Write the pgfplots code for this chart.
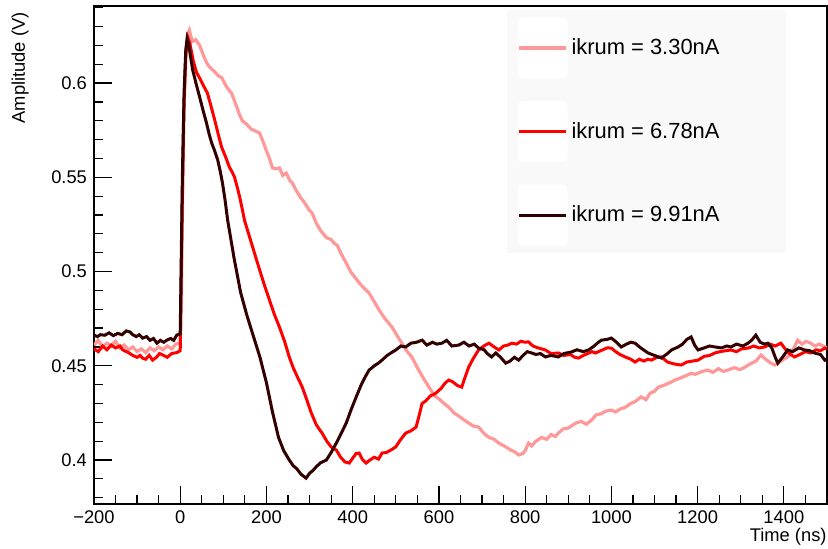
\documentclass[border=0pt]{standalone}
\usepackage{pgfplots}
\pgfplotsset{compat=1.18}
\usepackage{fontspec}
\setmainfont{Liberation Sans}
\definecolor{pinkc}{HTML}{FF9999}
\definecolor{redc}{HTML}{FF0000}
\definecolor{darkc}{HTML}{330000}
\definecolor{legbg}{HTML}{F9F9F9}

\begin{document}
\begin{tikzpicture}
\begin{axis}[
  scale only axis,
  width=366.5bp, height=249bp,
  xmin=-200, xmax=1500,
  ymin=0.3767, ymax=0.6409,
  axis line style={line width=0.6bp},
  tick pos=left,
  tick align=inside,
  major tick length=9bp,
  minor tick length=4.5bp,
  tick style={line width=0.6bp, black},
  xtick={-200,0,200,400,600,800,1000,1200,1400},
  xticklabels={−200,0,200,400,600,800,1000,1200,1400},
  minor xtick={-150,-100,...,1450},
  ytick={0.4,0.45,0.5,0.55,0.6},
  yticklabels={0.4,0.45,0.5,0.55,0.6},
  minor ytick={0.38,0.39,...,0.645},
  tick label style={font=\fontsize{9.2}{11}\selectfont},
  xlabel={Time (ns)},
  ylabel={Amplitude (V)},
  label style={font=\fontsize{9.2}{11}\selectfont, inner sep=0pt},
  xlabel style={at={(axis description cs:1,-0.048)}, anchor=north east},
  ylabel style={at={(axis description cs:-0.0887,0.988)}, anchor=south east},
  legend style={at={(axis description cs:0.5634,0.992)}, anchor=north west,
    draw=none, fill=legbg, inner xsep=5bp, inner ysep=3.5bp, row sep=11.3bp,
    font=\fontsize{11}{13}\selectfont},
  legend cell align=left,
  legend image code/.code={
    \fill[white, rounded corners=2bp] (0bp,-14.5bp) rectangle (23.5bp,14.5bp);
    \draw[#1] (0bp,0bp) -- (23.5bp,0bp);},
  clip=true,
]
\addplot[pinkc, line width=1.6bp] coordinates {
(-200,0.461) (-190,0.4635) (-180,0.460) (-170,0.462) (-160,0.4605) (-150,0.463) (-140,0.4595) (-130,0.461)
(-120,0.4585) (-110,0.460) (-100,0.4575) (-90,0.459) (-80,0.457) (-70,0.4595) (-60,0.458) (-50,0.460)
(-40,0.4585) (-30,0.4605) (-20,0.459) (-10,0.4615) (0,0.462) (2,0.48) (5,0.53) (8,0.58) (12,0.61)
(17,0.626) (21,0.628) (28,0.622) (36,0.623) (45,0.620) (55,0.614) (62,0.6105) (68,0.6085) (80,0.606)
(90,0.6035) (96,0.603) (105,0.599) (112,0.5965) (119,0.5947) (130,0.588) (138,0.583) (144,0.580)
(155,0.578) (165,0.5755) (175,0.5745) (184,0.5735) (192,0.569) (200,0.564) (207,0.560) (214,0.555)
(222,0.5545) (230,0.555) (238,0.551) (246,0.5522) (255,0.548) (260,0.547) (269,0.543) (280,0.539)
(290,0.536) (299,0.5326) (306,0.531) (315,0.526) (325,0.522) (332,0.520) (339,0.518) (350,0.517)
(357,0.515) (364,0.514) (372,0.510) (385,0.5045) (395,0.500) (405,0.497) (415,0.494) (425,0.4915)
(438,0.4886) (450,0.484) (461,0.4796) (475,0.475) (491,0.4706) (503,0.466) (514,0.462) (525,0.458)
(537,0.4547) (550,0.449) (565,0.443) (577,0.4387) (590,0.434) (600,0.4325) (612,0.430) (623,0.428)
(635,0.425) (645,0.4235) (657,0.4215) (669,0.4196) (680,0.418) (692,0.4175) (705,0.414) (716,0.412)
(728,0.411) (739,0.409) (747,0.408) (755,0.407) (765,0.4055) (775,0.4045) (785,0.4027) (795,0.4035)
(800,0.405) (808,0.409) (815,0.4075) (825,0.410) (838,0.412) (850,0.411) (860,0.4135) (870,0.4125)
(877,0.4143) (888,0.4165) (900,0.417) (910,0.4185) (917,0.4196) (930,0.4205) (942,0.419) (954,0.4212)
(965,0.424) (975,0.4245) (988,0.426) (1000,0.4265) (1010,0.4255) (1020,0.427) (1032,0.428) (1045,0.430)
(1055,0.431) (1069,0.4335) (1080,0.432) (1090,0.4355) (1100,0.4365) (1109,0.4387) (1120,0.4395)
(1130,0.4405) (1140,0.4415) (1148,0.4425) (1160,0.4435) (1170,0.4445) (1185,0.446) (1195,0.4455)
(1210,0.447) (1224,0.4477) (1235,0.4465) (1248,0.4485) (1260,0.447) (1270,0.4477) (1285,0.449)
(1298,0.448) (1310,0.4493) (1322,0.451) (1335,0.4525) (1347,0.4557) (1360,0.453) (1370,0.4515)
(1379,0.4504) (1390,0.452) (1400,0.4535) (1409,0.4547) (1420,0.458) (1432,0.4636) (1442,0.4615)
(1452,0.463) (1462,0.462) (1472,0.4605) (1482,0.4615) (1495,0.460) (1500,0.4595)
};
\addlegendentry{ikrum = 3.30nA\hspace*{26bp}}
\addplot[redc, line width=1.5bp] coordinates {
(-200,0.459) (-190,0.4575) (-180,0.4605) (-170,0.4585) (-160,0.461) (-150,0.4595) (-140,0.4605)
(-133,0.4584) (-120,0.457) (-110,0.4555) (-100,0.4545) (-93,0.4555) (-87,0.454) (-80,0.4535)
(-72,0.4555) (-64,0.453) (-55,0.4545) (-48,0.4565) (-40,0.4557) (-30,0.4545) (-20,0.4565) (-8,0.457)
(0,0.458) (2,0.49) (5,0.54) (9,0.59) (13,0.615) (18,0.624) (22,0.6215) (30,0.612) (38,0.6055)
(45,0.6027) (53,0.599) (63,0.5947) (70,0.589) (80,0.5804) (88,0.573) (96,0.566) (105,0.561)
(114,0.5554) (120,0.553) (126,0.5501) (132,0.545) (138,0.5395) (144,0.533) (149,0.5273) (160,0.519)
(172,0.510) (184,0.501) (195,0.493) (207,0.4849) (218,0.4775) (230,0.4706) (242,0.463) (253,0.4546)
(262,0.449) (272,0.444) (283,0.4387) (292,0.433) (304,0.425) (315,0.419) (322,0.4165) (329,0.4143)
(340,0.410) (350,0.407) (362,0.4053) (372,0.4015) (382,0.399) (392,0.3984) (400,0.401) (408,0.4035)
(415,0.4037) (422,0.4005) (431,0.3984) (440,0.400) (450,0.4015) (460,0.4005) (468,0.4037) (478,0.404)
(490,0.4055) (500,0.407) (510,0.4105) (523,0.4143) (535,0.4155) (547,0.4175) (554,0.4235) (561,0.430)
(570,0.4315) (580,0.434) (593,0.4355) (605,0.438) (615,0.441) (623,0.4424) (632,0.4415) (643,0.4395)
(653,0.4387) (660,0.4435) (669,0.4493) (680,0.454) (692,0.4584) (704,0.4605) (716,0.462) (728,0.460)
(739,0.4584) (750,0.4605) (760,0.461) (769,0.462) (780,0.4615) (790,0.463) (800,0.4625) (808,0.4627)
(818,0.4605) (830,0.4595) (847,0.4584) (860,0.4565) (877,0.4568) (890,0.4555) (905,0.456) (915,0.4545)
(924,0.4541) (935,0.4555) (945,0.4565) (955,0.4575) (963,0.4568) (975,0.458) (990,0.4595) (1000,0.4594)
(1010,0.4575) (1020,0.456) (1032,0.4547) (1045,0.4535) (1055,0.452) (1065,0.4535) (1075,0.4525)
(1085,0.4535) (1093,0.453) (1105,0.4545) (1116,0.4547) (1130,0.452) (1145,0.451) (1162,0.4504)
(1175,0.452) (1188,0.4525) (1201,0.453) (1215,0.455) (1228,0.4555) (1240,0.4568) (1252,0.4575)
(1265,0.458) (1277,0.4584) (1290,0.4575) (1302,0.459) (1317,0.4594) (1330,0.4605) (1343,0.4595)
(1356,0.460) (1368,0.4615) (1380,0.4605) (1393,0.462) (1403,0.459) (1415,0.456) (1425,0.4547)
(1437,0.456) (1450,0.4575) (1462,0.4568) (1475,0.4585) (1485,0.458) (1495,0.4594) (1500,0.459)
};
\addlegendentry{ikrum = 6.78nA}
\addplot[darkc, line width=1.5bp] coordinates {
(-200,0.4663) (-192,0.4655) (-185,0.4665) (-175,0.4662) (-165,0.4675) (-155,0.466) (-145,0.4672)
(-135,0.4665) (-125,0.4685) (-117,0.468) (-110,0.4665) (-102,0.4655) (-95,0.4665) (-87,0.4647)
(-78,0.4655) (-70,0.4635) (-62,0.4645) (-54,0.462) (-46,0.4635) (-38,0.4625) (-31,0.4636) (-22,0.4645)
(-15,0.4635) (-8,0.4663) (0,0.467) (2,0.50) (5,0.55) (9,0.595) (13,0.618) (16,0.6235) (20,0.6205)
(24,0.614) (29,0.6069) (37,0.5995) (45,0.5926) (53,0.5855) (61,0.5788) (67,0.573) (73,0.5682)
(80,0.564) (87,0.5592) (93,0.553) (98,0.547) (104,0.538) (110,0.5273) (125,0.507) (140,0.489)
(155,0.4765) (170,0.4655) (185,0.4545) (200,0.441) (214,0.4255) (228,0.412) (240,0.405) (253,0.400)
(262,0.397) (270,0.3955) (280,0.3925) (292,0.3904) (300,0.393) (308,0.3945) (315,0.3963) (325,0.3985)
(339,0.400) (350,0.404) (362,0.409) (373,0.414) (385,0.4196) (396,0.4265) (408,0.4334) (420,0.440)
(430,0.4445) (438,0.4477) (450,0.450) (460,0.4515) (468,0.453) (480,0.4555) (490,0.457) (500,0.4584)
(512,0.4605) (523,0.460) (535,0.462) (548,0.4625) (561,0.4636) (572,0.461) (585,0.4625) (595,0.4615)
(607,0.462) (618,0.4635) (630,0.4605) (646,0.461) (658,0.4625) (670,0.4605) (682,0.4615) (692,0.4594)
(705,0.4585) (712,0.4565) (722,0.4547) (732,0.4568) (743,0.4545) (755,0.4514) (765,0.4525) (775,0.4545)
(785,0.453) (795,0.4555) (805,0.4575) (815,0.4568) (825,0.456) (835,0.4565) (847,0.4547) (860,0.4555)
(877,0.4547) (890,0.4565) (907,0.4573) (920,0.4585) (935,0.4575) (947,0.4584) (960,0.4605) (970,0.4625)
(977,0.4636) (990,0.464) (1000,0.4647) (1012,0.4625) (1023,0.460) (1035,0.4615) (1045,0.4625)
(1055,0.462) (1068,0.4595) (1085,0.4568) (1100,0.4555) (1116,0.4541) (1130,0.4565) (1140,0.4585)
(1155,0.460) (1165,0.4615) (1175,0.464) (1185,0.4653) (1193,0.461) (1201,0.4584) (1215,0.4595)
(1228,0.4605) (1240,0.460) (1255,0.4595) (1268,0.4605) (1277,0.460) (1290,0.4615) (1305,0.4605)
(1317,0.462) (1325,0.4635) (1335,0.4663) (1345,0.4625) (1355,0.4615) (1363,0.462) (1372,0.4595)
(1380,0.4545) (1386,0.4514) (1395,0.454) (1409,0.4584) (1420,0.4575) (1435,0.4595) (1448,0.4584)
(1460,0.458) (1471,0.4568) (1485,0.456) (1495,0.453) (1500,0.4535)
};
\addlegendentry{ikrum = 9.91nA}
\path (axis description cs:-0.1282,-0.0904) coordinate (bbl)
      (axis description cs:1.0014,1.012) coordinate (btr);
\end{axis}
\useasboundingbox (bbl) rectangle (btr);
\end{tikzpicture}
\end{document}
